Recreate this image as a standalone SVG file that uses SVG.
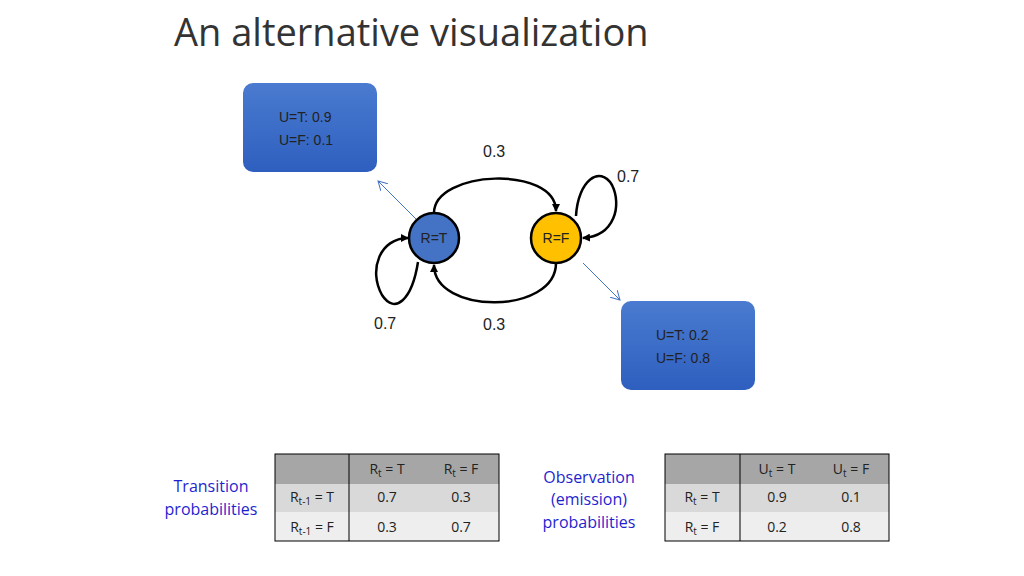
<svg xmlns="http://www.w3.org/2000/svg" width="1024" height="576" viewBox="0 0 1024 576">
<defs>
<linearGradient id="bg" x1="0" y1="0" x2="0" y2="1"><stop offset="0" stop-color="#4a7bd0"/><stop offset="1" stop-color="#2e5fbf"/></linearGradient>
<marker id="ah" markerWidth="8" markerHeight="8" refX="7" refY="4" orient="auto" markerUnits="userSpaceOnUse"><path d="M0,0L8,4L0,8z" fill="#000"/></marker>
<marker id="bh" markerWidth="10" markerHeight="10" refX="9" refY="5" orient="auto" markerUnits="userSpaceOnUse"><path d="M0,0L9,5L0,10" fill="none" stroke="#4472c4" stroke-width="1"/></marker>
</defs>
<style>
text{font-family:"Liberation Sans",Arial,sans-serif;fill:#222}
.t{font-family:Calibri,"Carlito","Liberation Sans",sans-serif}
.c{stroke:#000;stroke-width:2.5;fill:none}
.b{stroke:#4472c4;stroke-width:1;fill:none}
.cell{font-size:14px;text-anchor:middle;font-family:"Open Sans","Liberation Sans",sans-serif}
.lbl{font-size:16px;fill:#1f1fd0;text-anchor:middle;font-family:"Open Sans","Liberation Sans",sans-serif}
</style>
<rect width="1024" height="576" fill="#fff"/>
<text x="174" y="46" font-size="38" style="font-family:'Open Sans','Liberation Sans',sans-serif;fill:#333">An alternative visualization</text>
<g id="connectors">
<path class="c" d="M434,213 C434,170 556,165 556,211" marker-end="url(#ah)"/>
<path class="c" d="M556,263 C556,315 434,315 434,265" marker-end="url(#ah)"/>
<path class="c" d="M418,262 C412,300 395,315 382,295 C368,270 380,238 408,238" marker-end="url(#ah)"/>
<path class="c" d="M576,216 C578,180 600,165 612,185 C622,205 615,236 583,238" marker-end="url(#ah)"/>
<path class="b" d="M417,220 L378,181" marker-end="url(#bh)"/>
<path class="b" d="M583,263 L620,300" marker-end="url(#bh)"/>
</g>
<g id="nRT"><circle cx="434" cy="238" r="25" fill="#4472c4" stroke="#000" stroke-width="2.5"/><text x="434" y="243" font-size="14" text-anchor="middle">R=T</text></g>
<g id="nRF"><circle cx="556" cy="238" r="25" fill="#ffc000" stroke="#000" stroke-width="2.5"/><text x="556" y="243" font-size="14" text-anchor="middle">R=F</text></g>
<g id="e1"><rect x="243" y="83" width="134" height="89" rx="10" fill="url(#bg)"/><text x="279" y="122" font-size="14">U=T: 0.9</text><text x="279" y="145" font-size="14">U=F: 0.1</text></g>
<g id="e2"><rect x="621" y="301" width="134" height="89" rx="10" fill="url(#bg)"/><text x="656" y="340" font-size="14">U=T: 0.2</text><text x="656" y="363" font-size="14">U=F: 0.8</text></g>
<g id="labels" font-size="16">
<text x="483" y="157">0.3</text><text x="617" y="182">0.7</text><text x="374" y="329">0.7</text><text x="483" y="330">0.3</text>
</g>
<g id="t1">
<rect x="275" y="454" width="224" height="30" fill="#a6a6a6"/><rect x="275" y="484" width="224" height="28" fill="#d9d9d9"/><rect x="275" y="512" width="224" height="29" fill="#eeeeee"/>
<rect x="275" y="454" width="224" height="87" fill="none" stroke="#000"/><line x1="349" y1="454" x2="349" y2="541" stroke="#000"/>
<text class="cell" x="387" y="474">R<tspan font-size="10" dy="3">t</tspan><tspan dy="-3"> = T</tspan></text>
<text class="cell" x="461" y="474">R<tspan font-size="10" dy="3">t</tspan><tspan dy="-3"> = F</tspan></text>
<text class="cell" x="312" y="502">R<tspan font-size="10" dy="3">t-1</tspan><tspan dy="-3"> = T</tspan></text>
<text class="cell" x="312" y="532">R<tspan font-size="10" dy="3">t-1</tspan><tspan dy="-3"> = F</tspan></text>
<text class="cell" x="387" y="502">0.7</text><text class="cell" x="461" y="502">0.3</text>
<text class="cell" x="387" y="532">0.3</text><text class="cell" x="461" y="532">0.7</text>
<text class="lbl" x="211" y="492">Transition</text><text class="lbl" x="211" y="515">probabilities</text>
</g>
<g id="t2">
<rect x="665" y="454" width="224" height="30" fill="#a6a6a6"/><rect x="665" y="484" width="224" height="28" fill="#d9d9d9"/><rect x="665" y="512" width="224" height="29" fill="#eeeeee"/>
<rect x="665" y="454" width="224" height="87" fill="none" stroke="#000"/><line x1="740" y1="454" x2="740" y2="541" stroke="#000"/>
<text class="cell" x="777" y="474">U<tspan font-size="10" dy="3">t</tspan><tspan dy="-3"> = T</tspan></text>
<text class="cell" x="851" y="474">U<tspan font-size="10" dy="3">t</tspan><tspan dy="-3"> = F</tspan></text>
<text class="cell" x="702" y="502">R<tspan font-size="10" dy="3">t</tspan><tspan dy="-3"> = T</tspan></text>
<text class="cell" x="702" y="532">R<tspan font-size="10" dy="3">t</tspan><tspan dy="-3"> = F</tspan></text>
<text class="cell" x="777" y="502">0.9</text><text class="cell" x="851" y="502">0.1</text>
<text class="cell" x="777" y="532">0.2</text><text class="cell" x="851" y="532">0.8</text>
<text class="lbl" x="589" y="483">Observation</text><text class="lbl" x="589" y="505">(emission)</text><text class="lbl" x="589" y="528">probabilities</text>
</g>
</svg>
